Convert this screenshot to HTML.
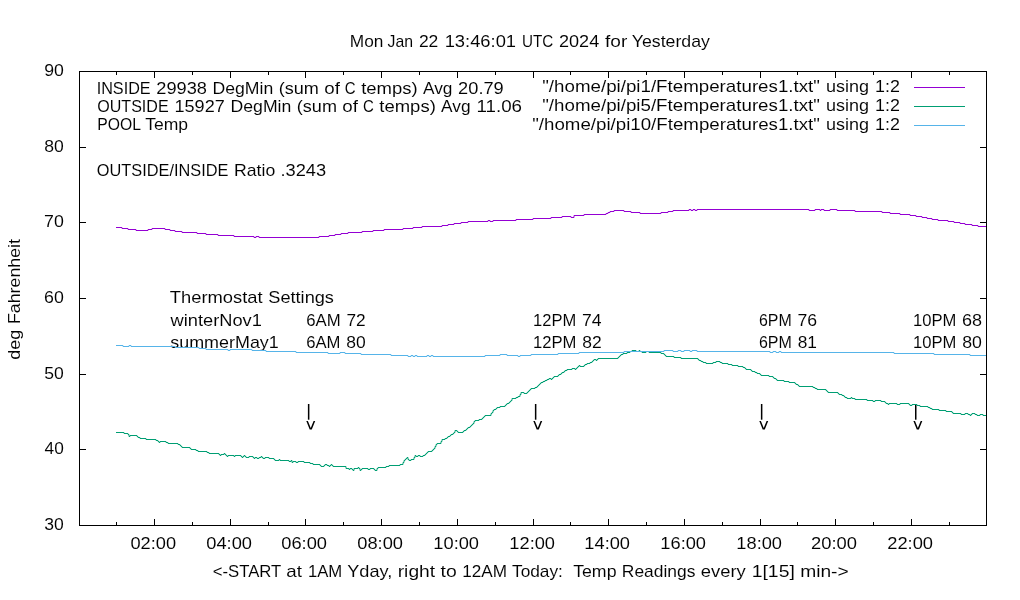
<!DOCTYPE html>
<html><head><meta charset="utf-8"><title>Temperatures</title>
<style>html,body{margin:0;padding:0;background:#fff;width:1020px;height:600px;overflow:hidden}svg{display:block}text{font-family:"Liberation Sans",sans-serif;font-size:17.0px;fill:#000;stroke:#fff;stroke-width:0.06px}</style></head>
<body><svg width="1020" height="600" viewBox="0 0 1020 600">
<rect width="1020" height="600" fill="#fff"/>
<g style="opacity:0.999">
<text x="349.78" y="46.90" textLength="33.62" lengthAdjust="spacingAndGlyphs">Mon</text>
<text x="387.59" y="46.90" textLength="25.58" lengthAdjust="spacingAndGlyphs">Jan</text>
<text x="418.90" y="46.90" textLength="19.48" lengthAdjust="spacingAndGlyphs">22</text>
<text x="444.65" y="46.90" textLength="71.41" lengthAdjust="spacingAndGlyphs">13:46:01</text>
<text x="521.95" y="46.90" textLength="31.34" lengthAdjust="spacingAndGlyphs">UTC</text>
<text x="559.00" y="46.90" textLength="40.26" lengthAdjust="spacingAndGlyphs">2024</text>
<text x="605.05" y="46.90" textLength="22.24" lengthAdjust="spacingAndGlyphs">for</text>
<text x="631.72" y="46.90" textLength="78.22" lengthAdjust="spacingAndGlyphs">Yesterday</text>
<text x="44.17" y="75.70" textLength="19.67" lengthAdjust="spacingAndGlyphs">90</text>
<text x="44.28" y="151.70" textLength="19.55" lengthAdjust="spacingAndGlyphs">80</text>
<text x="44.06" y="226.70" textLength="19.78" lengthAdjust="spacingAndGlyphs">70</text>
<text x="44.06" y="302.70" textLength="19.78" lengthAdjust="spacingAndGlyphs">60</text>
<text x="44.28" y="378.70" textLength="19.55" lengthAdjust="spacingAndGlyphs">50</text>
<text x="44.59" y="453.70" textLength="19.23" lengthAdjust="spacingAndGlyphs">40</text>
<text x="44.28" y="529.70" textLength="19.55" lengthAdjust="spacingAndGlyphs">30</text>
<text x="130.41" y="548.90" textLength="45.63" lengthAdjust="spacingAndGlyphs">02:00</text>
<text x="206.31" y="548.90" textLength="45.74" lengthAdjust="spacingAndGlyphs">04:00</text>
<text x="281.31" y="548.90" textLength="45.74" lengthAdjust="spacingAndGlyphs">06:00</text>
<text x="357.31" y="548.90" textLength="45.74" lengthAdjust="spacingAndGlyphs">08:00</text>
<text x="433.37" y="548.90" textLength="45.67" lengthAdjust="spacingAndGlyphs">10:00</text>
<text x="509.37" y="548.90" textLength="45.67" lengthAdjust="spacingAndGlyphs">12:00</text>
<text x="584.37" y="548.90" textLength="45.67" lengthAdjust="spacingAndGlyphs">14:00</text>
<text x="660.37" y="548.90" textLength="45.67" lengthAdjust="spacingAndGlyphs">16:00</text>
<text x="736.37" y="548.90" textLength="45.67" lengthAdjust="spacingAndGlyphs">18:00</text>
<text x="811.09" y="548.90" textLength="45.96" lengthAdjust="spacingAndGlyphs">20:00</text>
<text x="887.19" y="548.90" textLength="45.86" lengthAdjust="spacingAndGlyphs">22:00</text>
<text x="212.71" y="576.90" textLength="68.57" lengthAdjust="spacingAndGlyphs">&lt;-START</text>
<text x="286.24" y="576.90" textLength="15.68" lengthAdjust="spacingAndGlyphs">at</text>
<text x="307.88" y="576.90" textLength="34.37" lengthAdjust="spacingAndGlyphs">1AM</text>
<text x="347.26" y="576.90" textLength="45.09" lengthAdjust="spacingAndGlyphs">Yday,</text>
<text x="397.73" y="576.90" textLength="37.43" lengthAdjust="spacingAndGlyphs">right</text>
<text x="440.55" y="576.90" textLength="16.15" lengthAdjust="spacingAndGlyphs">to</text>
<text x="462.31" y="576.90" textLength="44.77" lengthAdjust="spacingAndGlyphs">12AM</text>
<text x="512.00" y="576.90" textLength="50.91" lengthAdjust="spacingAndGlyphs">Today:</text>
<text x="573.15" y="576.90" textLength="43.36" lengthAdjust="spacingAndGlyphs">Temp</text>
<text x="621.86" y="576.90" textLength="73.55" lengthAdjust="spacingAndGlyphs">Readings</text>
<text x="700.84" y="576.90" textLength="44.99" lengthAdjust="spacingAndGlyphs">every</text>
<text x="751.72" y="576.90" textLength="43.08" lengthAdjust="spacingAndGlyphs">1[15]</text>
<text x="800.15" y="576.90" textLength="48.60" lengthAdjust="spacingAndGlyphs">min-&gt;</text>
<text x="96.68" y="94.00" textLength="53.96" lengthAdjust="spacingAndGlyphs">INSIDE</text>
<text x="156.25" y="94.00" textLength="50.67" lengthAdjust="spacingAndGlyphs">29938</text>
<text x="212.47" y="94.00" textLength="60.81" lengthAdjust="spacingAndGlyphs">DegMin</text>
<text x="278.72" y="94.00" textLength="40.13" lengthAdjust="spacingAndGlyphs">(sum</text>
<text x="324.27" y="94.00" textLength="15.63" lengthAdjust="spacingAndGlyphs">of</text>
<text x="344.87" y="94.00" textLength="10.85" lengthAdjust="spacingAndGlyphs">C</text>
<text x="361.19" y="94.00" textLength="56.49" lengthAdjust="spacingAndGlyphs">temps)</text>
<text x="422.98" y="94.00" textLength="29.47" lengthAdjust="spacingAndGlyphs">Avg</text>
<text x="458.14" y="94.00" textLength="45.62" lengthAdjust="spacingAndGlyphs">20.79</text>
<text x="97.24" y="111.80" textLength="71.41" lengthAdjust="spacingAndGlyphs">OUTSIDE</text>
<text x="174.46" y="111.80" textLength="50.31" lengthAdjust="spacingAndGlyphs">15927</text>
<text x="230.52" y="111.80" textLength="60.83" lengthAdjust="spacingAndGlyphs">DegMin</text>
<text x="296.81" y="111.80" textLength="40.15" lengthAdjust="spacingAndGlyphs">(sum</text>
<text x="342.37" y="111.80" textLength="15.64" lengthAdjust="spacingAndGlyphs">of</text>
<text x="362.99" y="111.80" textLength="10.85" lengthAdjust="spacingAndGlyphs">C</text>
<text x="379.31" y="111.80" textLength="56.51" lengthAdjust="spacingAndGlyphs">temps)</text>
<text x="441.14" y="111.80" textLength="29.48" lengthAdjust="spacingAndGlyphs">Avg</text>
<text x="476.45" y="111.80" textLength="45.56" lengthAdjust="spacingAndGlyphs">11.06</text>
<text x="97.20" y="129.60" textLength="43.70" lengthAdjust="spacingAndGlyphs">POOL</text>
<text x="145.22" y="129.60" textLength="42.91" lengthAdjust="spacingAndGlyphs">Temp</text>
<text x="542.23" y="92.00" textLength="277.74" lengthAdjust="spacingAndGlyphs">&quot;/home/pi/pi1/Ftemperatures1.txt&quot;</text>
<text x="826.03" y="92.00" textLength="43.07" lengthAdjust="spacingAndGlyphs">using</text>
<text x="875.01" y="92.00" textLength="24.87" lengthAdjust="spacingAndGlyphs">1:2</text>
<text x="542.23" y="111.00" textLength="277.74" lengthAdjust="spacingAndGlyphs">&quot;/home/pi/pi5/Ftemperatures1.txt&quot;</text>
<text x="826.03" y="111.00" textLength="43.07" lengthAdjust="spacingAndGlyphs">using</text>
<text x="875.01" y="111.00" textLength="24.87" lengthAdjust="spacingAndGlyphs">1:2</text>
<text x="532.23" y="130.00" textLength="287.65" lengthAdjust="spacingAndGlyphs">&quot;/home/pi/pi10/Ftemperatures1.txt&quot;</text>
<text x="826.07" y="130.00" textLength="43.03" lengthAdjust="spacingAndGlyphs">using</text>
<text x="875.01" y="130.00" textLength="24.85" lengthAdjust="spacingAndGlyphs">1:2</text>
<text x="96.83" y="175.70" textLength="131.60" lengthAdjust="spacingAndGlyphs">OUTSIDE/INSIDE</text>
<text x="233.97" y="175.70" textLength="41.23" lengthAdjust="spacingAndGlyphs">Ratio</text>
<text x="280.40" y="175.70" textLength="45.72" lengthAdjust="spacingAndGlyphs">.3243</text>
<text x="169.82" y="302.90" textLength="92.86" lengthAdjust="spacingAndGlyphs">Thermostat</text>
<text x="268.27" y="302.90" textLength="65.70" lengthAdjust="spacingAndGlyphs">Settings</text>
<text x="170.60" y="325.80" textLength="91.29" lengthAdjust="spacingAndGlyphs">winterNov1</text>
<text x="170.27" y="347.70" textLength="108.54" lengthAdjust="spacingAndGlyphs">summerMay1</text>
<text x="306.21" y="325.80" textLength="34.42" lengthAdjust="spacingAndGlyphs">6AM</text>
<text x="346.40" y="325.80" textLength="19.24" lengthAdjust="spacingAndGlyphs">72</text>
<text x="306.22" y="347.70" textLength="34.24" lengthAdjust="spacingAndGlyphs">6AM</text>
<text x="346.19" y="347.70" textLength="19.45" lengthAdjust="spacingAndGlyphs">80</text>
<text x="533.04" y="325.90" textLength="43.15" lengthAdjust="spacingAndGlyphs">12PM</text>
<text x="581.91" y="325.90" textLength="19.61" lengthAdjust="spacingAndGlyphs">74</text>
<text x="533.03" y="347.90" textLength="43.48" lengthAdjust="spacingAndGlyphs">12PM</text>
<text x="582.29" y="347.90" textLength="19.44" lengthAdjust="spacingAndGlyphs">82</text>
<text x="758.96" y="325.80" textLength="32.80" lengthAdjust="spacingAndGlyphs">6PM</text>
<text x="797.51" y="325.80" textLength="19.64" lengthAdjust="spacingAndGlyphs">76</text>
<text x="758.95" y="347.70" textLength="32.91" lengthAdjust="spacingAndGlyphs">6PM</text>
<text x="797.67" y="347.70" textLength="19.28" lengthAdjust="spacingAndGlyphs">81</text>
<text x="913.03" y="325.80" textLength="43.38" lengthAdjust="spacingAndGlyphs">10PM</text>
<text x="961.94" y="325.80" textLength="20.06" lengthAdjust="spacingAndGlyphs">68</text>
<text x="913.03" y="347.70" textLength="43.38" lengthAdjust="spacingAndGlyphs">10PM</text>
<text x="962.17" y="347.70" textLength="19.72" lengthAdjust="spacingAndGlyphs">80</text>
<text transform="rotate(-90)" x="-359.74" y="20.00" textLength="29.99" lengthAdjust="spacingAndGlyphs">deg</text>
<text transform="rotate(-90)" x="-324.10" y="20.00" textLength="85.12" lengthAdjust="spacingAndGlyphs">Fahrenheit</text>
</g>
<rect x="307.90" y="404" width="1.5" height="15.7" fill="#000"/>
<path d="M306.30 421.1H307.90L310.75 428.1L313.60 421.1H315.20L311.80 429.6H309.70Z" fill="#000"/>
<rect x="534.90" y="404" width="1.5" height="15.7" fill="#000"/>
<path d="M533.30 421.1H534.90L537.75 428.1L540.60 421.1H542.20L538.80 429.6H536.70Z" fill="#000"/>
<rect x="760.90" y="404" width="1.5" height="15.7" fill="#000"/>
<path d="M759.30 421.1H760.90L763.75 428.1L766.60 421.1H768.20L764.80 429.6H762.70Z" fill="#000"/>
<rect x="915.00" y="404" width="1.5" height="15.7" fill="#000"/>
<path d="M913.40 421.1H915.00L917.85 428.1L920.70 421.1H922.30L918.90 429.6H916.80Z" fill="#000"/>
<path d="M116 227.5H122V228.5H128V229.5H136V230.5H148V229.5H152V228.5H165V229.5H170V230.5H175V231.5H182V232.5H197V233.5H206V234.5H218V235.5H234V236.5H254V237.5H256V236.5H259V237.5H319V236.5H329V235.5H335V234.5H341V233.5H348V232.5H362V231.5H373V230.5H384V229.5H403V228.5H413V227.5H422V226.5H442V225.5H448V224.5H454V223.5H461V222.5H468V221.5H488V220.5H490V221.5H493V220.5H516V219.5H533V218.5H551V217.5H562V216.5H571V217.5H574V215.5H584V214.5H606V213.5H608V212.5H610V211.5H614V210.5H624V211.5H631V212.5H640V213.5H661V212.5H668V211.5H673V210.5H689V209.5H691V210.5H693V209.5H695V210.5H697V209.5H809V210.5H815V209.5H820V210.5H821V209.5H824V210.5H830V209.5H837V210.5H855V211.5H882V212.5H890V213.5H900V214.5H910V215.5H916V216.5H922V217.5H927V218.5H932V219.5H938V220.5H948V221.5H954V222.5H960V223.5H965V224.5H972V225.5H978V226.5H986" stroke="#9400d3" stroke-width="1" fill="none"/>
<path d="M116 432.5H124V433.5H128V434.5H129V436.5H130V435.5H137V436.5H138V437.5H140V438.5H146V439.5H156V440.5H158V441.5H159V442.5H160V441.5H166V442.5H168V443.5H178V444.5H180V445.5H181V446.5H182V447.5H190V448.5H191V449.5H196V450.5H198V451.5H207V452.5H209V453.5H219V454.5H220V455.5H221V454.5H224V453.5H225V454.5H226V455.5H227V456.5H228V455.5H234V456.5H235V455.5H241V456.5H242V457.5H243V456.5H244V455.5H245V456.5H246V457.5H249V456.5H253V457.5H254V458.5H255V457.5H257V458.5H259V457.5H261V456.5H262V457.5H263V458.5H265V457.5H269V458.5H274V459.5H275V460.5H279V459.5H280V460.5H289V461.5H291V460.5H292V462.5H293V461.5H296V462.5H298V461.5H304V462.5H310V463.5H313V464.5H320V465.5H321V466.5H324V465.5H325V464.5H327V465.5H329V466.5H330V465.5H331V464.5H332V465.5H333V466.5H346V468.5H349V469.5H350V468.5H352V469.5H353V470.5H354V468.5H358V467.5H359V468.5H360V470.5H361V469.5H362V468.5H368V469.5H370V468.5H374V469.5H375V470.5H377V468.5H378V467.5H386V466.5H389V465.5H400V464.5H403V462.5H404V460.5H405V459.5H406V458.5H407V457.5H408V459.5H409V460.5H411V459.5H414V457.5H415V455.5H416V456.5H418V455.5H420V456.5H423V455.5H425V454.5H426V453.5H427V452.5H428V451.5H432V450.5H433V449.5H434V448.5H435V446.5H436V444.5H437V443.5H441V441.5H442V439.5H445V438.5H447V437.5H448V436.5H450V435.5H451V434.5H453V433.5H454V432.5H455V430.5H457V431.5H458V432.5H463V431.5H464V430.5H466V429.5H467V428.5H468V427.5H470V426.5H471V425.5H472V424.5H473V423.5H474V421.5H475V420.5H479V419.5H482V418.5H483V417.5H484V416.5H485V415.5H491V413.5H492V412.5H493V410.5H494V409.5H496V408.5H497V407.5H500V406.5H505V405.5H506V404.5H507V403.5H509V402.5H510V401.5H511V400.5H512V398.5H516V397.5H518V396.5H520V394.5H521V392.5H524V393.5H527V392.5H528V391.5H529V390.5H530V389.5H531V388.5H535V387.5H537V386.5H538V385.5H539V384.5H540V383.5H541V382.5H543V381.5H545V380.5H547V379.5H549V378.5H551V379.5H552V378.5H553V377.5H554V376.5H558V375.5H559V374.5H561V373.5H562V372.5H564V371.5H565V370.5H567V369.5H572V368.5H575V369.5H576V368.5H577V367.5H578V366.5H579V365.5H580V366.5H584V365.5H585V364.5H587V363.5H590V362.5H592V361.5H593V360.5H594V359.5H596V360.5H597V359.5H598V358.5H618V357.5H619V356.5H620V355.5H621V354.5H623V353.5H627V352.5H630V351.5H632V350.5H636V351.5H639V350.5H640V351.5H642V352.5H646V351.5H649V352.5H661V353.5H664V354.5H665V355.5H666V356.5H674V357.5H681V358.5H698V359.5H699V360.5H701V361.5H703V362.5H706V363.5H713V362.5H716V361.5H720V362.5H722V363.5H728V364.5H732V365.5H738V366.5H743V367.5H745V368.5H746V369.5H751V370.5H752V371.5H755V372.5H757V373.5H760V374.5H761V375.5H769V376.5H773V377.5H774V378.5H776V379.5H777V380.5H784V381.5H789V382.5H795V383.5H796V384.5H798V385.5H799V386.5H813V387.5H815V388.5H817V389.5H826V390.5H827V391.5H828V392.5H838V393.5H839V394.5H842V395.5H844V396.5H845V397.5H847V398.5H851V397.5H852V398.5H855V399.5H867V400.5H873V401.5H875V400.5H881V401.5H885V402.5H886V403.5H888V404.5H889V403.5H897V404.5H900V403.5H909V404.5H910V405.5H912V404.5H917V405.5H920V406.5H928V407.5H930V408.5H932V409.5H939V410.5H946V411.5H952V412.5H953V413.5H961V414.5H965V413.5H968V414.5H970V415.5H971V414.5H972V413.5H975V414.5H977V415.5H980V414.5H983V415.5H986" stroke="#009e73" stroke-width="1" fill="none"/>
<path d="M116 345.5H123V346.5H129V345.5H131V346.5H175V347.5H199V348.5H206V349.5H228V350.5H230V349.5H252V350.5H266V351.5H296V352.5H328V353.5H340V352.5H345V353.5H361V354.5H391V355.5H408V356.5H411V355.5H413V356.5H415V355.5H417V356.5H427V355.5H429V356.5H431V355.5H433V356.5H485V355.5H500V354.5H507V355.5H518V356.5H520V355.5H531V354.5H558V353.5H579V352.5H624V351.5H664V350.5H673V351.5H678V350.5H681V351.5H684V350.5H690V351.5H692V350.5H697V351.5H770V352.5H773V351.5H776V352.5H779V351.5H781V352.5H894V353.5H934V354.5H970V355.5H986" stroke="#56b4e9" stroke-width="1" fill="none"/>
<rect x="79.5" y="71.5" width="907" height="454" fill="none" stroke="#000" stroke-width="1"/>
<path d="M79 71.5H86M980 71.5H987M79 147.5H86M980 147.5H987M79 222.5H86M980 222.5H987M79 298.5H86M980 298.5H987M79 374.5H86M980 374.5H987M79 449.5H86M980 449.5H987M79 525.5H86M980 525.5H987M116.5 522V526M116.5 71V75M154.5 519V526M154.5 71V78M192.5 522V526M192.5 71V75M230.5 519V526M230.5 71V78M268.5 522V526M268.5 71V75M305.5 519V526M305.5 71V78M343.5 522V526M343.5 71V75M381.5 519V526M381.5 71V78M419.5 522V526M419.5 71V75M457.5 519V526M457.5 71V78M495.5 522V526M495.5 71V75M533.5 519V526M533.5 71V78M570.5 522V526M570.5 71V75M608.5 519V526M608.5 71V78M646.5 522V526M646.5 71V75M684.5 519V526M684.5 71V78M722.5 522V526M722.5 71V75M760.5 519V526M760.5 71V78M797.5 522V526M797.5 71V75M835.5 519V526M835.5 71V78M873.5 522V526M873.5 71V75M911.5 519V526M911.5 71V78M949.5 522V526M949.5 71V75" stroke="#000" stroke-width="1" fill="none"/>
<path d="M914 87.5H965" stroke="#9400d3" stroke-width="1"/>
<path d="M914 106.5H965" stroke="#009e73" stroke-width="1"/>
<path d="M914 125.5H965" stroke="#56b4e9" stroke-width="1"/>
</svg></body></html>
